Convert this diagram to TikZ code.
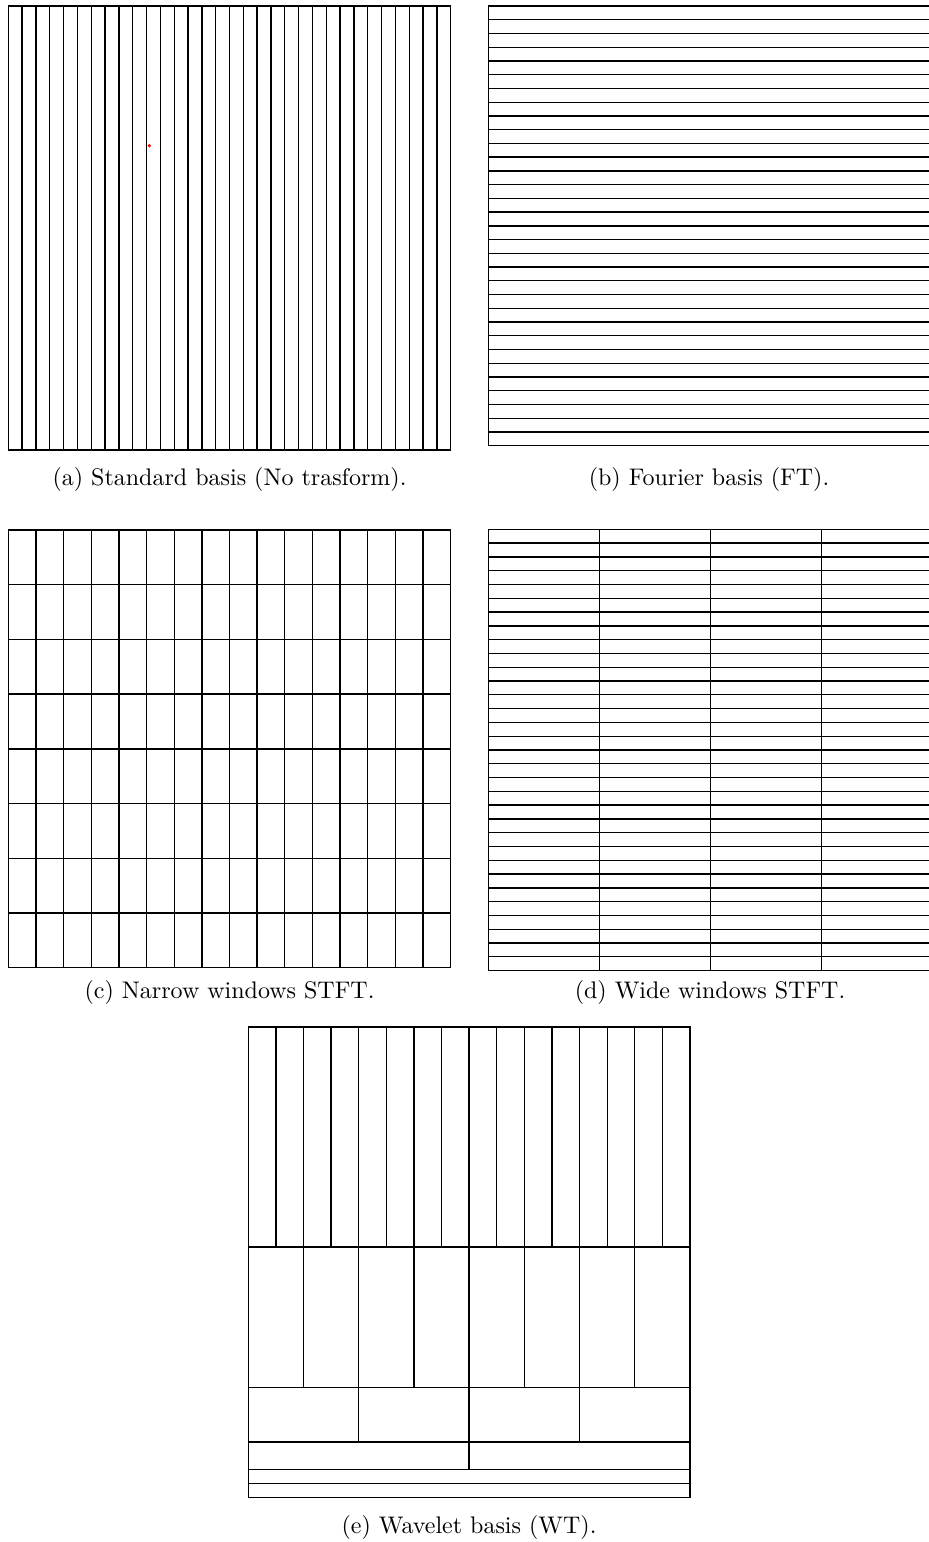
\documentclass[tikz,border=0pt]{standalone}
\begin{document}
\begin{tikzpicture}[x=0.41667pt,y=-0.41667pt,
  gridline/.style={line width=0.55pt, draw=black},
  captext/.style={anchor=base, inner sep=0pt, font=\fontsize{10}{12}\selectfont}]
\useasboundingbox (0,0) rectangle (929,1542);
\begin{scope}
\clip (0,0) rectangle (929,1542);
% (a) standard basis
\draw[gridline] (8.3,6) rectangle (450.7,450);
\foreach \i in {1,...,31} \draw[gridline] ({8.3+\i*13.825},6) -- ({8.3+\i*13.825},450);
\fill[red] (149.3,145.7) circle (1.8);
% (b) Fourier basis
\draw[gridline] (488.3,6) rectangle (930.7,445.7);
\foreach \i in {1,...,31} \draw[gridline] (488.3,{6+\i*13.74}) -- (930.7,{6+\i*13.74});
% (c) narrow STFT
\draw[gridline] (8.3,530) rectangle (450.7,967.7);
\foreach \i in {1,...,15} \draw[gridline] ({8.3+\i*27.65},530) -- ({8.3+\i*27.65},967.7);
\foreach \i in {1,...,7} \draw[gridline] (8.3,{530+\i*54.71}) -- (450.7,{530+\i*54.71});
% (d) wide STFT
\draw[gridline] (488.3,529.3) rectangle (932.3,970.7);
\foreach \i in {1,2,3} \draw[gridline] ({488.3+\i*111},529.3) -- ({488.3+\i*111},970.7);
\foreach \i in {1,...,31} \draw[gridline] (488.3,{529.3+\i*13.79}) -- (932.3,{529.3+\i*13.79});
% (e) wavelet basis
\draw[gridline] (248.3,1027) rectangle (690,1497.3);
\foreach \y in {1247,1387.3,1442,1469.7,1483.7} \draw[gridline] (248.3,\y) -- (690,\y);
\foreach \i in {1,...,15} \draw[gridline] ({248.3+\i*27.606},1027) -- ({248.3+\i*27.606},1247);
\foreach \i in {2,4,...,14} \draw[gridline] ({248.3+\i*27.606},1247) -- ({248.3+\i*27.606},1387.3);
\foreach \i in {4,8,12} \draw[gridline] ({248.3+\i*27.606},1387.3) -- ({248.3+\i*27.606},1442);
\draw[gridline] ({248.3+8*27.606},1442) -- ({248.3+8*27.606},1469.7);
\end{scope}
% captions
\node[captext] (capa) at (229.5,485) {(a) Standard basis (No trasform).};
\node[captext] (capb) at (709,485) {(b) Fourier basis (FT).};
\node[captext] (capc) at (229.5,998) {(c) Narrow windows STFT.};
\node[captext] (capd) at (710,998) {(d) Wide windows STFT.};
\node[captext] (cape) at (469,1533) {(e) Wavelet basis (WT).};
\end{tikzpicture}
\end{document}
